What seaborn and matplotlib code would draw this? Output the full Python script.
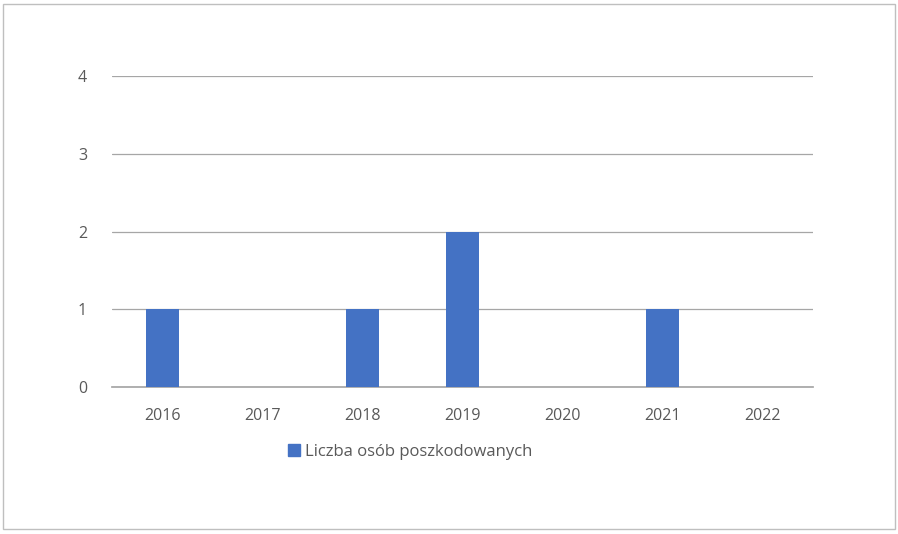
import matplotlib
matplotlib.use("Agg")
import matplotlib.pyplot as plt
import seaborn as sns
import pandas as pd
from matplotlib.patches import Rectangle

years = ["2016", "2017", "2018", "2019", "2020", "2021", "2022"]
values = [1, 0, 1, 2, 0, 1, 0]
series_name = "Liczba osób poszkodowanych"
yticks = [0, 1, 2, 3, 4]

sns.set_theme(style="white")
plt.rcParams['font.family'] = ['Open Sans', 'DejaVu Sans']

fig = plt.figure(figsize=(8.98, 5.34), dpi=100)
fig.patches.append(Rectangle((3/898, 1-529/534), 892/898, 525/534, transform=fig.transFigure,
                             fill=False, edgecolor="#BFBFBF", linewidth=1))
ax = fig.add_axes([112/898, 1-387/534, 701/898, 311/534])
df = pd.DataFrame({"year": years, "value": values})
sns.barplot(data=df, x="year", y="value", color="#4472C4", saturation=1, width=0.33,
            linewidth=0, ax=ax, zorder=3)
ax.set_ylim(0, 4)
ax.set_yticks(yticks)
ax.set_xlim(-0.5, 6.5)
ax.grid(axis="y", color="#A6A6A6", linewidth=0.9, zorder=0)
for s in ["top", "right", "left"]:
    ax.spines[s].set_visible(False)
ax.spines["bottom"].set_color("#A6A6A6")
ax.set_xlabel("")
ax.set_ylabel("")
ax.tick_params(axis="both", length=0, labelsize=11.5, labelcolor="#595959")
ax.tick_params(axis="y", pad=18)
ax.tick_params(axis="x", pad=15)
handle = Rectangle((0, 0), 1, 1, color="#4472C4")
fig.legend([handle], [series_name], loc="center", bbox_to_anchor=(410/898, 1-452/534),
           frameon=False, fontsize=12, handlelength=0.7, handleheight=0.7, handletextpad=0.3,
           labelcolor="#595959")
fig.savefig("out.png", dpi=100)
